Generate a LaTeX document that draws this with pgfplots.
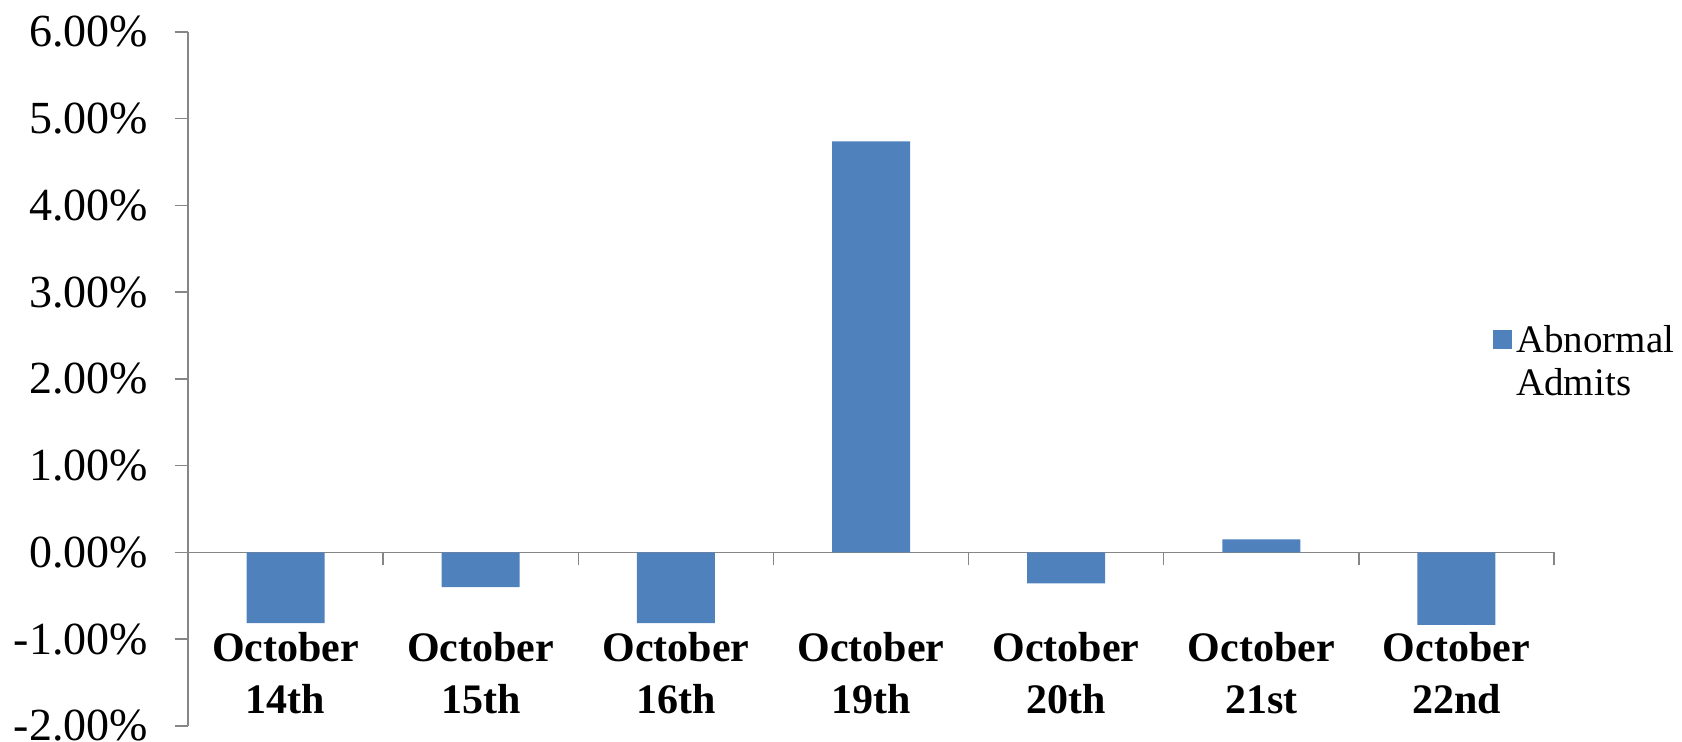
\documentclass[border=0pt]{standalone}
\usepackage{fontspec}
\setmainfont{Liberation Serif}
\usepackage{pgfplots}
\pgfplotsset{compat=1.18}
\definecolor{barblue}{HTML}{4F81BD}
\definecolor{axgray}{HTML}{868686}
\begin{document}
\begin{tikzpicture}
\path[use as bounding box] (-94pt,-8pt) rectangle (747pt,363pt);
\begin{axis}[
  scale only axis, width=683pt, height=347pt,
  xmin=-0.5, xmax=6.5, ymin=-2, ymax=6,
  ybar, bar width=39pt,
  axis y line=left, axis x line=middle,
  axis line style={-, draw=axgray, line width=0.75pt},
  hide obscured x ticks=false, hide obscured y ticks=false,
  xtick={0,...,6},
  xticklabels={October\\14th,October\\15th,October\\16th,October\\19th,October\\20th,October\\21st,October\\22nd},
  minor xtick={-0.5,0.5,1.5,2.5,3.5,4.5,5.5,6.5},
  major x tick style={draw=none},
  minor x tick style={draw=axgray, line width=0.75pt, yshift=-3.25pt},
  minor tick length=6.5pt,
  xtick align=center,
  ytick={-2,...,6},
  yticklabels={-2.00\%,-1.00\%,0.00\%,1.00\%,2.00\%,3.00\%,4.00\%,5.00\%,6.00\%},
  ytick align=outside, major tick length=6.5pt,
  y tick style={draw=axgray, line width=0.75pt},
  yticklabel style={font=\fontsize{23}{27}\selectfont, anchor=east, xshift=-10pt},
  xticklabel style={font=\bfseries\fontsize{21}{26}\selectfont, align=center, anchor=north, yshift=-33pt},
  legend style={draw=none, fill=none, at={(0.955,0.525)}, anchor=west, inner sep=0pt,
    font=\fontsize{19.5}{21.5}\selectfont, cells={align=left}},
  legend image code/.code={\fill[barblue] (-3.5pt,6.3pt) rectangle (6.2pt,16pt);},
]
\addplot[fill=barblue, draw=none] coordinates {(0,-0.815) (1,-0.40) (2,-0.815) (3,4.74) (4,-0.355) (5,0.15) (6,-0.833)};
\addlegendentry{Abnormal\\Admits}
\end{axis}
\end{tikzpicture}
\end{document}
